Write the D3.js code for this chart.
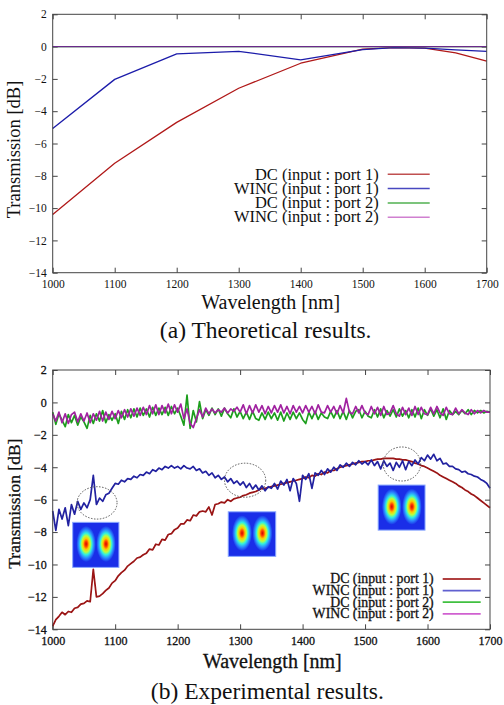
<!DOCTYPE html>
<html>
<head>
<meta charset="utf-8">
<script src="https://cdn.jsdelivr.net/npm/d3@7"></script>
<style>
body { margin: 0; background: #fff; }
svg { display: block; font-family: "Liberation Serif", "Times New Roman", serif; }
</style>
</head>
<body>
<svg id="chart" width="504" height="705"></svg>
<script>
const seriesNames = ["DC (input : port 1)", "WINC (input : port 1)", "DC (input : port 2)", "WINC (input : port 2)"];
const xTicks = [1000, 1100, 1200, 1300, 1400, 1500, 1600, 1700];
const yTicks = [2, 0, -2, -4, -6, -8, -10, -12, -14];

// (a) theoretical
const theoryWavelengths = [1000, 1100, 1200, 1300, 1400, 1500, 1550, 1600, 1650, 1700];
const theoryDcPort1 = [-10.4, -7.22, -4.69, -2.58, -1.03, -0.16, -0.06, -0.1, -0.39, -0.9];
const theoryWincPort1 = [-5.07, -2.03, -0.45, -0.29, -0.82, -0.19, -0.06, -0.1, -0.2, -0.29];
const theoryDcPort2 = [0, 0, 0, 0, 0, 0, 0, 0, 0, 0];
const theoryWincPort2 = [0, 0, 0, 0, 0, 0, 0, 0, 0, 0];

// (b) experimental, sampled every 5 nm
const expWavelengths = d3.range(1000, 1701, 5);
const expDcPort1 = [
  -13.8, -13.4, -13.2, -12.95, -13.1, -12.9, -12.95, -12.7, -12.65, -12.45,
  -12.4, -12.25, -12.3, -10.3, -12.0, -11.95, -11.8, -11.6, -11.45, -11.15,
  -11.0, -10.7, -10.5, -10.35, -10.1, -9.95, -9.8, -9.6, -9.55, -9.4,
  -9.3, -9.05, -9.1, -8.75, -8.8, -8.45, -8.5, -8.15, -8.1, -7.85,
  -7.75, -7.5, -7.5, -7.25, -7.3, -6.95, -7.0, -6.75, -6.7, -6.75,
  -6.45, -6.95, -6.3, -6.25, -6.15, -6.2, -6.0, -6.1, -5.95, -5.9,
  -5.85, -5.75, -5.7, -5.6, -5.55, -5.5, -5.4, -5.3, -5.3, -5.25,
  -5.2, -5.15, -5.1, -5.05, -5.0, -4.95, -4.9, -4.85, -4.8, -4.75,
  -4.7, -4.6, -4.65, -4.5, -4.55, -4.4, -4.45, -4.3, -4.35, -4.2,
  -4.2, -4.1, -4.0, -3.95, -3.9, -3.85, -3.8, -3.75, -3.7, -3.65,
  -3.65, -3.6, -3.6, -3.55, -3.5, -3.5, -3.45, -3.45, -3.45, -3.45,
  -3.5, -3.5, -3.55, -3.55, -3.6, -3.65, -3.75, -3.8, -3.9, -3.95,
  -4.05, -4.15, -4.25, -4.35, -4.5, -4.6, -4.7, -4.8, -4.9, -5.0,
  -5.15, -5.25, -5.4, -5.5, -5.65, -5.75, -5.9, -6.05, -6.2, -6.35,
  -6.5
];
const expWincPort1 = [
  -6.7, -7.9, -6.6, -7.2, -6.5, -7.6, -6.3, -6.9, -6.1, -6.6,
  -6.2, -6.5, -6.0, -4.5, -6.3, -5.9, -6.1, -5.7, -5.6, -5.3,
  -5.0, -5.05, -4.8, -4.9, -4.7, -4.75, -4.55, -4.65, -4.45, -4.5,
  -4.3, -4.4, -4.15, -4.25, -4.05, -4.15, -3.95, -4.05, -3.9, -4.05,
  -3.95, -4.1, -3.9, -4.05, -4.1, -3.95, -4.2, -4.1, -4.35, -4.25,
  -4.5, -4.35, -4.65, -4.5, -4.75, -4.6, -4.9, -4.7, -5.0, -4.85,
  -5.1, -4.9, -5.25, -5.0, -5.35, -5.1, -5.4, -5.15, -5.45, -5.2,
  -5.3, -5.0, -5.35, -4.85, -5.1, -4.75, -5.45, -4.7, -5.0, -6.1,
  -4.5, -4.75, -4.4, -5.3, -4.35, -4.5, -4.2, -4.45, -4.1, -4.3,
  -4.0, -4.2, -3.85, -4.0, -3.75, -3.95, -3.7, -3.85, -3.6, -3.8,
  -3.65, -3.85, -3.55, -3.9, -3.65, -4.1, -3.6, -3.95, -3.75, -4.2,
  -3.7, -4.0, -3.6, -4.15, -3.65, -3.9, -3.55, -3.8, -3.4, -3.6,
  -3.25, -3.5, -3.2, -3.6, -3.45, -3.8, -3.75, -3.95, -3.95, -4.1,
  -4.15, -4.3, -4.25, -4.4, -4.45, -4.55, -4.6, -4.75, -4.85, -5.0,
  -5.3
];
const expDcPort2 = [
  -0.6, -1.35, -0.7, -1.1, -1.5, -0.75, -1.25, -0.8, -1.4, -0.9,
  -1.2, -1.6, -0.8, -1.3, -0.7, -1.15, -0.5, -1.25, -0.75, -1.1,
  -0.7, -1.3, -0.55, -1.05, -0.45, -0.95, -0.4, -0.9, -0.35, -0.8,
  -0.4, -0.9, -0.3, -0.8, -0.35, -0.75, -0.3, -0.8, -0.25, -0.7,
  -0.35, -0.85, -1.4, 0.45, -1.6, -0.5, -1.2, 0.05, -1.0, -0.45,
  -0.8, -0.35, -0.75, -0.4, -0.85, -0.35, -0.7, -0.95, -0.4, -0.9,
  -0.55, -1.0, -0.6, -1.05, -0.55, -1.0, -1.1, -0.65, -1.05, -0.6,
  -1.0, -0.65, -1.1, -0.6, -1.15, -0.65, -1.05, -0.6, -1.0, -0.65,
  -1.05, -1.3, -0.6, -1.0, -0.55, -1.05, -0.65, -0.9, -1.0, -0.55,
  -0.95, -0.5, -1.0, -0.55, -1.05, -0.5, -0.95, -0.55, -0.45, -0.95,
  -0.55, -0.85, -0.95, -0.45, -0.9, -0.4, -0.95, -0.5, -0.85, -0.45,
  -0.9, -0.4, -0.85, -0.5, -0.95, -0.45, -0.9, -0.35, -1.0, -0.45,
  -0.8, -0.4, -0.85, -0.45, -0.95, -0.4, -1.05, -0.5, -0.75, -0.55,
  -0.75, -0.5, -0.7, -0.45, -0.75, -0.5, -0.65, -0.5, -0.65, -0.55,
  -0.6
];
const expWincPort2 = [
  -0.7, -1.15, -0.6, -1.25, -0.7, -1.3, -0.75, -0.6, -1.2, -0.7,
  -1.15, -0.65, -1.25, -0.7, -1.1, -0.55, -1.15, -0.6, -1.05, -0.55,
  -1.0, -0.5, -0.95, -0.45, -0.9, -0.4, -0.85, -0.35, -0.8, -0.3,
  -0.75, -0.2, -0.7, -0.15, -0.75, -0.2, -0.65, -0.1, -0.7, -0.15,
  -0.6, -0.1, -1.0, -0.4, -1.3, -1.55, -1.0, -0.45, -0.9, -0.35,
  -0.7, -0.4, -0.65, -0.45, -0.6, -0.35, -0.65, -0.4, -0.55, -0.3,
  -0.6, -0.15, -0.7, -0.2, -0.65, -0.15, -0.6, -0.2, -0.7, -0.25,
  -0.65, -0.2, -0.6, -0.15, -0.65, -0.25, -0.7, -0.2, -0.6, -0.25,
  -0.65, -0.2, -0.6, -0.25, -0.7, -0.15, -0.6, -0.65, -0.2, -0.6,
  -0.25, -0.7, -0.2, -0.65, 0.25, -0.6, -0.7, -0.25, -0.65, -0.2,
  -0.65, -0.75, -0.25, -0.7, -0.3, -0.8, -0.25, -0.75, -0.65, -0.2,
  -0.7, -0.85, -0.3, -0.75, -0.35, -0.8, -0.25, -0.75, -0.3, -0.7,
  -0.75, -0.3, -0.7, -0.25, -0.65, -0.8, -0.3, -0.7, -0.75, -0.35,
  -0.7, -0.45, -0.65, -0.75, -0.45, -0.7, -0.5, -0.65, -0.5, -0.6,
  -0.6
];

// mode-profile insets and dotted ellipses, in data units
const insets = [
  { w0: 1032, w1: 1106, v0: -7.4, v1: -10.18 },
  { w0: 1281, w1: 1357, v0: -6.75, v1: -9.5 },
  { w0: 1521, w1: 1596, v0: -5.1, v1: -7.88 }
];
const rings = [
  { w: 1071, v: -6.2, rw: 32, rv: 1.0 },
  { w: 1308, v: -4.8, rw: 33, rv: 1.05 },
  { w: 1559, v: -3.8, rw: 30, rv: 1.05 }
];

const svg = d3.select("#chart");
const defs = svg.append("defs");
const grad = defs.append("radialGradient").attr("id", "mode");
[[0, "#c81000"], [0.14, "#ff3a00"], [0.3, "#ffc800"], [0.45, "#b8ff40"],
 [0.6, "#30f0e0"], [0.78, "#2c8cff"], [1, "#1a2ee8"]].forEach(s =>
  grad.append("stop").attr("offset", s[0]).attr("stop-color", s[1]));
defs.append("filter").attr("id", "soft")
  .append("feGaussianBlur").attr("stdDeviation", 0.45);

function panel(opts) {
  const g = svg.append("g").attr("transform", `translate(${opts.left},${opts.top})`);
  const x = d3.scaleLinear().domain([1000, 1700]).range([0, opts.w]);
  const y = d3.scaleLinear().domain([-14, 2]).range([opts.h, 0]);

  const heavy = (sel) => {
    if (opts.heavy) sel.attr("stroke", "#111").attr("stroke-width", opts.heavy);
  };
  const styleAxis = (a) => {
    a.select(".domain").remove();
    a.selectAll("line").attr("stroke", "#444");
    a.selectAll("text").attr("font-family", "Liberation Serif, serif")
      .attr("font-size", opts.tickFont).attr("fill", "#111").call(heavy);
  };
  g.append("g").attr("transform", `translate(0,${opts.h})`)
    .call(d3.axisBottom(x).tickValues(xTicks).tickSize(-5).tickPadding(7).tickFormat(d3.format("d")))
    .call(styleAxis);
  g.append("g")
    .call(d3.axisTop(x).tickValues(xTicks).tickSize(-5).tickFormat(""))
    .call(styleAxis);
  g.append("g")
    .call(d3.axisLeft(y).tickValues(yTicks).tickSize(-5).tickPadding(6))
    .call(styleAxis);
  g.append("g").attr("transform", `translate(${opts.w},0)`)
    .call(d3.axisRight(y).tickValues(yTicks).tickSize(-5).tickFormat(""))
    .call(styleAxis);

  const line = d3.line().x((d, i) => x(opts.wl[i])).y(d => y(d));
  const lines = g.append("g");
  if (opts.soft) lines.attr("filter", "url(#soft)");
  opts.series.forEach((vals, i) => {
    lines.append("path").datum(vals)
      .attr("fill", "none")
      .attr("stroke", opts.colors[i])
      .attr("stroke-width", opts.lineWidth)
      .attr("stroke-linejoin", "round")
      .attr("d", line);
  });

  if (opts.overlay) opts.overlay(g, x, y);

  g.append("rect").attr("width", opts.w).attr("height", opts.h)
    .attr("fill", "none").attr("stroke", "#444").attr("stroke-width", 1);

  // legend
  const lg = g.append("g").attr("transform", `translate(${opts.legendX},${opts.legendY})`);
  seriesNames.forEach((name, i) => {
    const row = lg.append("g").attr("transform", `translate(0,${i * opts.legendStep})`);
    row.append("text").attr("x", 0).attr("y", 0).attr("dy", "0.32em")
      .attr("text-anchor", "end").attr("font-size", opts.legendFont).attr("fill", "#111")
      .call(heavy)
      .text(name);
    row.append("line").attr("x1", 9).attr("x2", 9 + opts.legendLine)
      .attr("stroke", opts.legendColors[i]).attr("stroke-width", opts.legendWidth);
  });

  g.append("text").attr("transform", `translate(${opts.yTitleX},${opts.h / 2 + opts.yTitleShift}) rotate(-90)`)
    .attr("text-anchor", "middle").attr("font-size", opts.yTitleFont).attr("fill", "#111")
    .call(heavy)
    .text("Transmission [dB]");
  g.append("text").attr("x", opts.w / 2 + 1).attr("y", opts.h + opts.xTitleDy)
    .attr("text-anchor", "middle").attr("font-size", opts.titleFont).attr("fill", "#111")
    .call(heavy)
    .text("Wavelength [nm]");
  g.append("text").attr("x", opts.w / 2 - 4).attr("y", opts.h + opts.captionDy)
    .attr("text-anchor", "middle").attr("font-size", opts.captionFont).attr("fill", "#111")
    .text(opts.caption);
}

panel({
  left: 52.7, top: 14.3, w: 434, h: 258.4,
  wl: theoryWavelengths,
  series: [theoryDcPort1, theoryWincPort1, theoryDcPort2, theoryWincPort2],
  colors: ["#b01818", "#1c1caa", "#20a020", "#6a2a8a"],
  legendColors: ["#c05050", "#4848c0", "#50b050", "#d080d0"],
  lineWidth: 1.3, tickFont: 11.5,
  legendX: 326, legendY: 160, legendStep: 14.3, legendFont: 16.5, legendLine: 42, legendWidth: 1.5,
  titleFont: 20, yTitleFont: 18.5, yTitleX: -33, yTitleShift: 6, xTitleDy: 36, captionDy: 65, captionFont: 23.5,
  caption: "(a) Theoretical results."
});

panel({
  left: 52.7, top: 370, w: 437.3, h: 259.3,
  wl: expWavelengths,
  series: [expDcPort1, expWincPort1, expDcPort2, expWincPort2],
  colors: ["#9a1212", "#2020a0", "#1e9e1e", "#a020a0"],
  legendColors: ["#b04040", "#6060d0", "#40c040", "#d060d0"],
  lineWidth: 1.7, tickFont: 12, soft: true, heavy: 0.3,
  legendX: 381, legendY: 209, legendStep: 11.6, legendFont: 13.8, legendLine: 38, legendWidth: 1.8,
  titleFont: 20, yTitleFont: 17.5, yTitleX: -33, yTitleShift: 4, xTitleDy: 39, captionDy: 70, captionFont: 23.5,
  caption: "(b) Experimental results.",
  overlay: (g, x, y) => {
    rings.forEach(r => {
      g.append("ellipse")
        .attr("cx", x(r.w)).attr("cy", y(r.v))
        .attr("rx", x(1000 + r.rw) - x(1000)).attr("ry", y(-r.rv) - y(0))
        .attr("fill", "none").attr("stroke", "#555").attr("stroke-width", 1)
        .attr("stroke-dasharray", "1.5,1.5");
    });
    insets.forEach(b => {
      const bx = x(b.w0), by = y(b.v0), bw = x(b.w1) - x(b.w0), bh = y(b.v1) - y(b.v0);
      const ig = g.append("g").attr("transform", `translate(${bx},${by})`);
      ig.append("rect").attr("width", bw).attr("height", bh)
        .attr("fill", "#1a2ee8").attr("stroke", "#8aa8ff").attr("stroke-width", 1);
      [0.29, 0.72].forEach(fx => {
        ig.append("ellipse").attr("cx", bw * fx).attr("cy", bh * 0.48)
          .attr("rx", bw * 0.21).attr("ry", bh * 0.4).attr("fill", "url(#mode)");
      });
    });
  }
});
</script>
</body>
</html>
